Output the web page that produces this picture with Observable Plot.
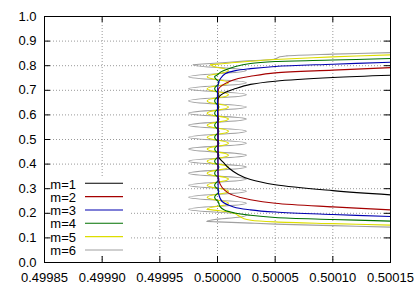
<!DOCTYPE html>
<html><head><meta charset="utf-8">
<script src="https://cdn.jsdelivr.net/npm/d3@7"></script>
<script src="https://cdn.jsdelivr.net/npm/@observablehq/plot@0.6"></script>
<style>body{margin:0;background:#fff}#chart svg{display:block}</style>
</head><body><div id="chart"></div>
<script>
// tick values
const xTicks = [0.49985, 0.49990, 0.49995, 0.50000, 0.50005, 0.50010, 0.50015];
const yTicks = [0.0, 0.1, 0.2, 0.3, 0.4, 0.5, 0.6, 0.7, 0.8, 0.9, 1.0];

// series names and colours
const names = ["m=1", "m=2", "m=3", "m=4", "m=5", "m=6"];
const colors = ["#000000", "#a50000", "#0000b0", "#007000", "#dddd00", "#a0a0a0"];

// x values are offsets from 0.5 in units of 1e-5; y values as read
const m1dx = [15, 10, 5, 2.86, 1.56, 0.69, 0.11, 0.05, 0.05, 0.05, 0.1, 0.55, 1.0, 1.8, 2.86, 5, 10, 15];
const m1y  = [0.761, 0.752, 0.737, 0.724, 0.707, 0.692, 0.672, 0.655, 0.55, 0.45, 0.428, 0.405, 0.383, 0.358, 0.337, 0.316, 0.292, 0.275];

const m2dx = [15, 10, 5, 2.86, 1.8, 0.98, 0.4, 0.1, 0.04, 0.04, 0.04, 0.1, 0.4, 1.0, 2.0, 2.86, 5, 10, 15];
const m2y  = [0.792, 0.782, 0.771, 0.757, 0.748, 0.735, 0.720, 0.706, 0.690, 0.52, 0.37, 0.335, 0.305, 0.281, 0.264, 0.255, 0.241, 0.226, 0.214];

const m3dx = [15, 10, 5, 2.86, 1.56, 0.7, 0.26, 0.06, 0.05, 0.06, 0.1, 0.4, 1.4, 2.86, 5, 10, 15];
const m3y  = [0.814, 0.806, 0.797, 0.788, 0.780, 0.768, 0.748, 0.726, 0.5, 0.30, 0.279, 0.248, 0.226, 0.214, 0.205, 0.195, 0.187];

const m4dx = [15, 10, 5, 2.86, 1.56, 0.84, 0.3, 0.05,
  -0.25, 0.12, -0.25, 0.12, -0.25, 0.12, -0.25, 0.12, -0.25, 0.12, -0.25, 0.12,
  -0.25, 0.12, -0.25, 0.12, -0.25, 0.12, -0.25, 0.12, -0.25, 0.12,
  0.2, 0.6, 1.5, 2.86, 5, 10, 15];
const m4y  = [0.829, 0.823, 0.817, 0.809, 0.797, 0.786, 0.775, 0.766,
  0.755, 0.731, 0.706, 0.682, 0.657, 0.632, 0.607, 0.583, 0.558, 0.534, 0.509, 0.485,
  0.461, 0.436, 0.412, 0.388, 0.363, 0.339, 0.314, 0.290, 0.265, 0.241,
  0.228, 0.213, 0.201, 0.192, 0.183, 0.175, 0.168];

const m5dx = [15, 10, 5, 2.86, 1.5, 0.4, -0.6,
  0.95, -0.9, 0.95, -0.9, 0.95, -0.9, 0.95, -0.9, 0.95, -0.9, 0.95, -0.9,
  0.95, -0.9, 0.95, -0.9, 0.95, -0.9, 0.95, -0.9, 0.95, -0.9, 0.95, -0.9,
  0.1, 1.0, 1.5, 1.9, 2.3, 2.9, 5, 10, 15];
const m5y  = [0.844, 0.836, 0.825, 0.818, 0.813, 0.808, 0.804,
  0.780, 0.755, 0.731, 0.706, 0.682, 0.657, 0.632, 0.607, 0.583, 0.558, 0.534, 0.509,
  0.485, 0.461, 0.436, 0.412, 0.388, 0.363, 0.339, 0.314, 0.290, 0.265, 0.241, 0.216,
  0.211, 0.205, 0.199, 0.188, 0.178, 0.172, 0.165, 0.158, 0.152];

const m6dx = [15, 10, 6.0, 5.4, 4.9, 3.0, 1.0, 0, -1.3, -2.1,
  2.5, -2.5, 2.5, -2.5, 2.5, -2.5, 2.5, -2.5, 2.5, -2.5, 2.5, -2.5,
  2.5, -2.5, 2.5, -2.5, 2.5, -2.5, 2.5, -2.5, 2.5, -2.5, 2.5, -2.5, 2.5, -0.9,
  0, 1.2, 2.86, 5, 10, 15];
const m6y  = [0.853, 0.847, 0.840, 0.836, 0.826, 0.821, 0.814, 0.811, 0.807, 0.804,
  0.780, 0.755, 0.731, 0.706, 0.682, 0.657, 0.632, 0.607, 0.583, 0.558, 0.534, 0.509,
  0.485, 0.461, 0.436, 0.412, 0.388, 0.363, 0.339, 0.314, 0.290, 0.265, 0.241, 0.216, 0.192, 0.167,
  0.165, 0.163, 0.160, 0.156, 0.150, 0.144];

// index range [start, end] of the oscillating (zig-zag) part of each series, null if none
const zigRanges = [null, null, null, [7, 29], [6, 30], [9, 35]];

const seriesDx = [m1dx, m2dx, m3dx, m4dx, m5dx, m6dx];
const seriesY = [m1y, m2y, m3y, m4y, m5y, m6y];
const drawOrder = [5, 4, 3, 0, 1, 2];

const W = 415, H = 290, mL = 44, mR = 25, mT = 16, mB = 28;
const innerW = W - mL - mR, innerH = H - mT - mB;
const font = "'Liberation Sans', Arial, Helvetica, sans-serif";

const lineMarks = [];
drawOrder.forEach(i => {
  const rows = seriesDx[i].map((d, j) => ({x: 0.5 + d * 1e-5, y: seriesY[i][j]}));
  const opts = {x: "x", y: "y", stroke: colors[i], strokeWidth: 1.1};
  const zr = zigRanges[i];
  if (!zr) {
    lineMarks.push(Plot.line(rows, {...opts, curve: "catmull-rom"}));
  } else {
    lineMarks.push(Plot.line(rows.slice(0, zr[0] + 1), {...opts, curve: "catmull-rom"}));
    lineMarks.push(Plot.line(rows.slice(zr[0], zr[1] + 1), {...opts, curve: "bump-y"}));
    lineMarks.push(Plot.line(rows.slice(zr[1]), {...opts, curve: "catmull-rom"}));
  }
});

const grid = {stroke: "#999", strokeWidth: 1, strokeDasharray: "1,2"};

const svg = Plot.plot({
  width: W, height: H,
  marginLeft: mL, marginRight: mR, marginTop: mT, marginBottom: mB,
  style: {fontFamily: font, fontSize: "13px", background: "white", color: "black", overflow: "visible"},
  x: {domain: [0.49985, 0.50015], ticks: xTicks, tickFormat: d3.format(".5f"), tickSize: 0, tickPadding: 10, label: null},
  y: {domain: [0, 1], ticks: yTicks, tickFormat: d3.format(".1f"), tickSize: 0, tickPadding: 8, label: null},
  marks: [
    Plot.ruleX(xTicks.slice(1, -1), grid),
    Plot.ruleY(yTicks.slice(1, -1), grid),
    ...lineMarks,
    Plot.frame({stroke: "black", strokeWidth: 1}),
    Plot.ruleX(xTicks, {stroke: "black", insetTop: innerH - 6}),
    Plot.ruleX(xTicks, {stroke: "black", insetBottom: innerH - 6}),
    Plot.ruleY(yTicks, {stroke: "black", insetRight: innerW - 6}),
    Plot.ruleY(yTicks, {stroke: "black", insetLeft: innerW - 6})
  ]
});

// legend (inside plot, bottom-left)
const s = d3.select(svg);
const lg = s.append("g").attr("font-family", font).attr("font-size", 13);
lg.append("rect").attr("x", 51).attr("y", 176).attr("width", 78).attr("height", 80).attr("fill", "white");
names.forEach((n, i) => {
  const cy = 183.3 + i * 13.33;
  lg.append("text").attr("x", 76).attr("y", cy + 5.2).attr("text-anchor", "end").attr("fill", "black").text(n);
  lg.append("line").attr("x1", 85).attr("x2", 123).attr("y1", cy).attr("y2", cy)
    .attr("stroke", colors[i]).attr("stroke-width", 1.1);
});

document.getElementById("chart").appendChild(svg);
</script>
</body></html>
